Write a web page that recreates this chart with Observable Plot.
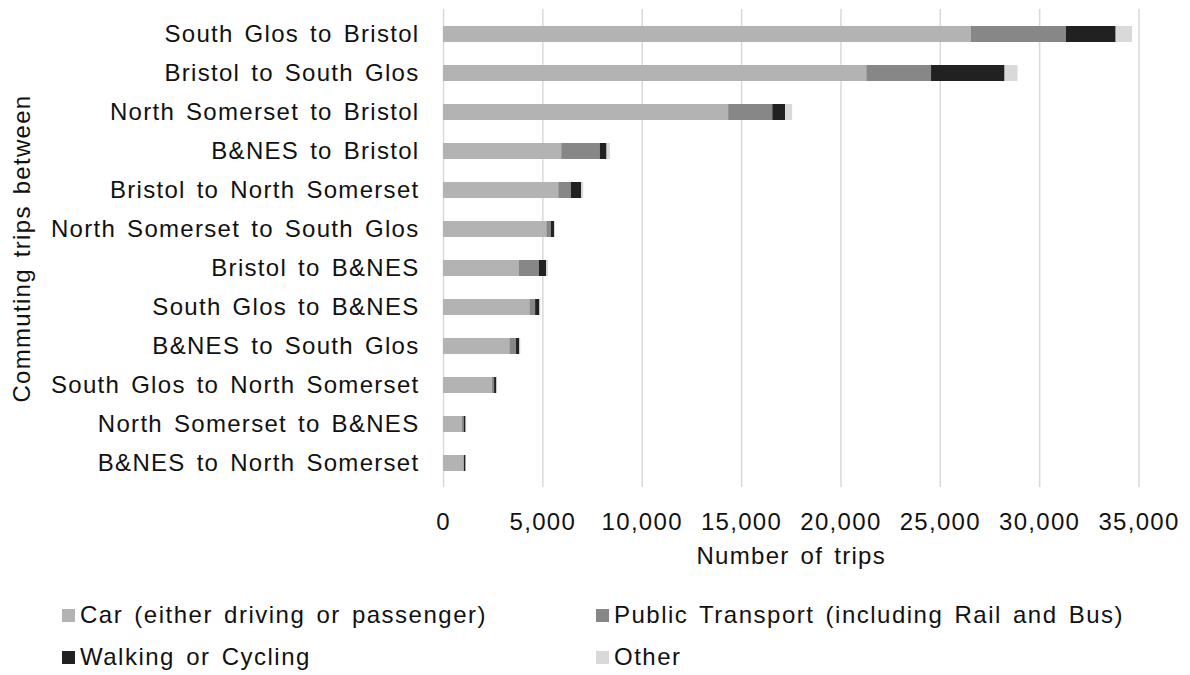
<!DOCTYPE html>
<html>
<head>
<meta charset="utf-8">
<script src="https://cdn.jsdelivr.net/npm/d3@7"></script>
<script src="https://cdn.jsdelivr.net/npm/@observablehq/plot@0.6"></script>
<style>
  body { margin: 0; background: #fff; font-family: "Liberation Sans", Arial, sans-serif; }
  #wrap { position: relative; width: 1190px; height: 675px; }
  svg text { letter-spacing: 1.3px; word-spacing: 3px; }
  .leg { position: absolute; font-size: 24px; letter-spacing: 1.5px; word-spacing: 3px; color: #111; display: flex; align-items: center; white-space: nowrap; line-height: 28px; }
  .sw { width: 13px; height: 13px; margin-right: 5px; display: inline-block; }
</style>
</head>
<body>
<div id="wrap"></div>
<script>
const routes = [
  "South Glos to Bristol",
  "Bristol to South Glos",
  "North Somerset to Bristol",
  "B&NES to Bristol",
  "Bristol to North Somerset",
  "North Somerset to South Glos",
  "Bristol to B&NES",
  "South Glos to B&NES",
  "B&NES to South Glos",
  "South Glos to North Somerset",
  "North Somerset to B&NES",
  "B&NES to North Somerset"
];
const modes = [
  "Car (either driving or passenger)",
  "Public Transport (including Rail and Bus)",
  "Walking or Cycling",
  "Other"
];
const modeColors = ["#b3b3b3", "#878787", "#212121", "#d9d9d9"];
const car       = [26550, 21300, 14350, 5950, 5800, 5200, 3800, 4350, 3340, 2450, 950, 1030];
const publicTr  = [4800, 3260, 2220, 1940, 635, 235, 1025, 285, 335, 120, 100, 20];
const walkCycle = [2500, 3700, 650, 340, 520, 150, 370, 215, 165, 115, 85, 85];
const other     = [830, 650, 350, 165, 100, 50, 85, 50, 50, 35, 35, 25];
const xTicks = [0, 5000, 10000, 15000, 20000, 25000, 30000, 35000];

const series = [car, publicTr, walkCycle, other];
const data = [];
routes.forEach((r, i) => {
  modes.forEach((m, j) => data.push({route: r, mode: m, value: series[j][i]}));
});

const chart = Plot.plot({
  width: 1190,
  height: 580,
  marginLeft: 443,
  marginRight: 51.5,
  marginTop: 9,
  marginBottom: 93,
  style: {fontFamily: "'Liberation Sans', Arial, sans-serif", fontSize: "24px", color: "#111", background: "#fff", overflow: "visible"},
  x: {domain: [0, 35000], ticks: xTicks, tickFormat: d3.format(","), tickSize: 0, tickPadding: 25,
      label: "Number of trips", labelAnchor: "center", labelArrow: "none", labelOffset: 76},
  y: {domain: routes, paddingInner: 0.6, paddingOuter: 0.3, tickSize: 0, tickPadding: 24,
      label: "Commuting trips between", labelAnchor: "center", labelArrow: "none", labelOffset: 431},
  color: {domain: modes, range: modeColors},
  marks: [
    Plot.gridX({ticks: xTicks, stroke: "#d9d9d9", strokeOpacity: 1, strokeWidth: 1.5}),
    Plot.barX(data, Plot.stackX({x: "value", y: "route", fill: "mode", order: modes}))
  ]
});
const wrap = document.getElementById("wrap");
wrap.appendChild(chart);

const legPos = [[62, 615], [596, 615], [62, 657], [596, 657]];
modes.forEach((m, j) => {
  const d = document.createElement("div");
  d.className = "leg";
  d.style.left = legPos[j][0] + "px";
  d.style.top = (legPos[j][1] - 14) + "px";
  d.innerHTML = `<span class="sw" style="background:${modeColors[j]}"></span><span></span>`;
  d.lastChild.textContent = m;
  wrap.appendChild(d);
});
</script>
</body>
</html>
